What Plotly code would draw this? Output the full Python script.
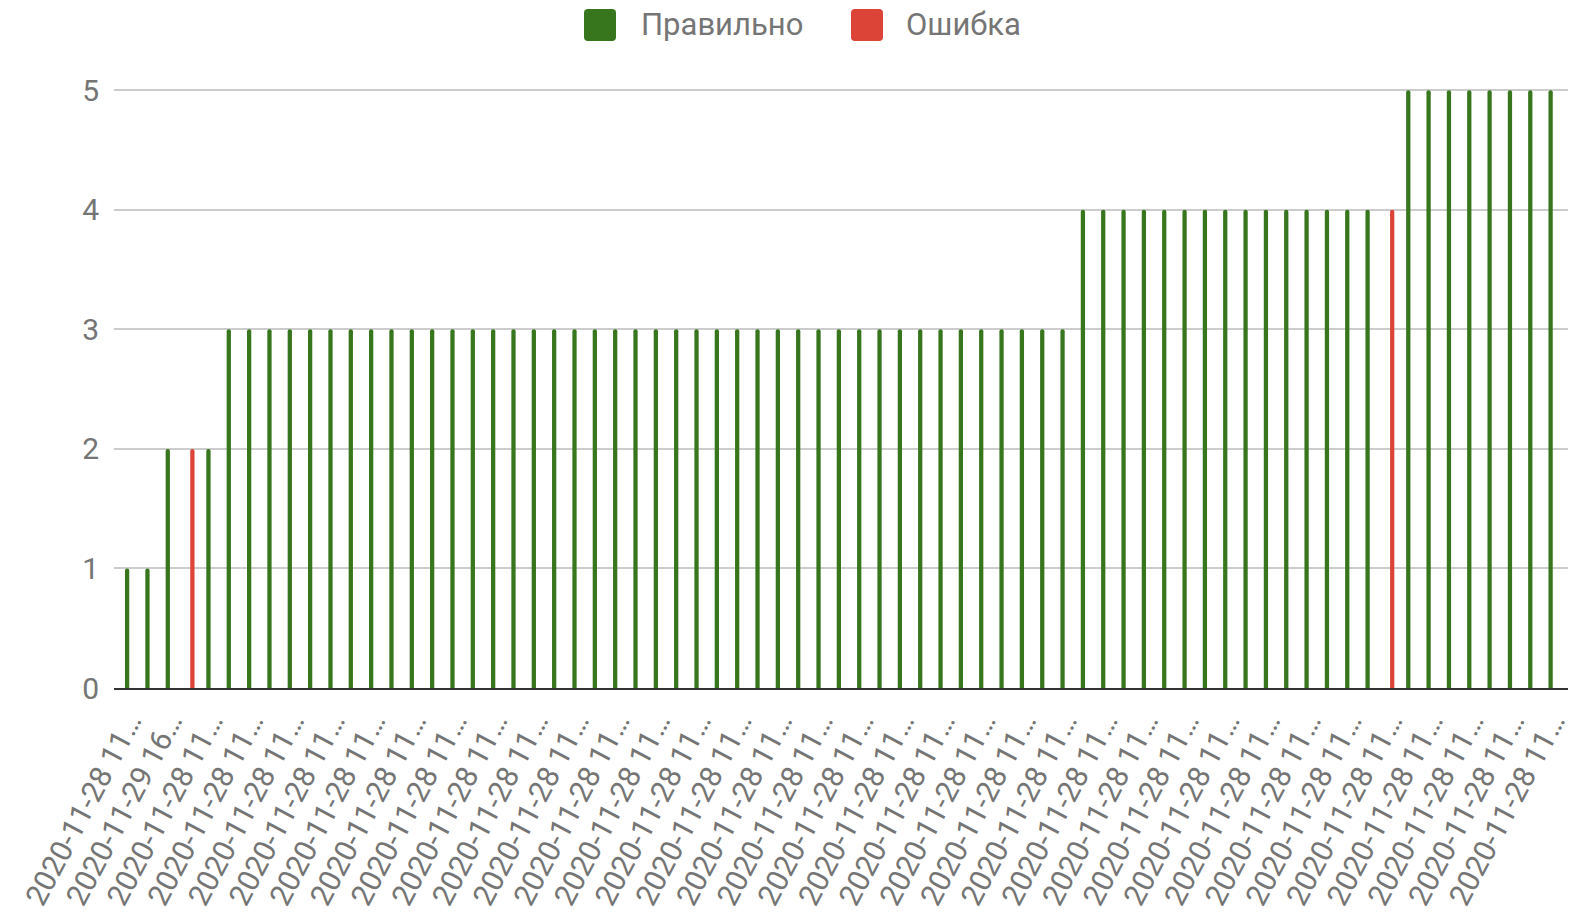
import plotly.graph_objects as go

# ---------------- data ----------------
category_labels = [
    "2020-11-28 11…", "2020-11-28 11…", "2020-11-29 16…", "2020-11-28 11…", "2020-11-28 11…",
    "2020-11-28 11…", "2020-11-28 11…", "2020-11-28 11…", "2020-11-28 11…", "2020-11-28 11…",
    "2020-11-28 11…", "2020-11-28 11…", "2020-11-28 11…", "2020-11-28 11…", "2020-11-28 11…",
    "2020-11-28 11…", "2020-11-28 11…", "2020-11-28 11…", "2020-11-28 11…", "2020-11-28 11…",
    "2020-11-28 11…", "2020-11-28 11…", "2020-11-28 11…", "2020-11-28 11…", "2020-11-28 11…",
    "2020-11-28 11…", "2020-11-28 11…", "2020-11-28 11…", "2020-11-28 11…", "2020-11-28 11…",
    "2020-11-28 11…", "2020-11-28 11…", "2020-11-28 11…", "2020-11-28 11…", "2020-11-28 11…",
    "2020-11-28 11…", "2020-11-28 11…", "2020-11-28 11…", "2020-11-28 11…", "2020-11-28 11…",
    "2020-11-28 11…", "2020-11-28 11…", "2020-11-28 11…", "2020-11-28 11…", "2020-11-28 11…",
    "2020-11-28 11…", "2020-11-28 11…", "2020-11-28 11…", "2020-11-28 11…", "2020-11-28 11…",
    "2020-11-28 11…", "2020-11-28 11…", "2020-11-28 11…", "2020-11-28 11…", "2020-11-28 11…",
    "2020-11-28 11…", "2020-11-28 11…", "2020-11-28 11…", "2020-11-28 11…", "2020-11-28 11…",
    "2020-11-28 11…", "2020-11-28 11…", "2020-11-28 11…", "2020-11-28 11…", "2020-11-28 11…",
    "2020-11-28 11…", "2020-11-28 11…", "2020-11-28 11…", "2020-11-28 11…", "2020-11-28 11…",
    "2020-11-28 11…",
]

correct_values = [
    1, 1, 2, None, 2, 3, 3, 3, 3, 3,
    3, 3, 3, 3, 3, 3, 3, 3, 3, 3,
    3, 3, 3, 3, 3, 3, 3, 3, 3, 3,
    3, 3, 3, 3, 3, 3, 3, 3, 3, 3,
    3, 3, 3, 3, 3, 3, 3, 4, 4, 4,
    4, 4, 4, 4, 4, 4, 4, 4, 4, 4,
    4, 4, None, 5, 5, 5, 5, 5, 5, 5,
    5,
]

error_values = [
    None, None, None, 2, None, None, None, None, None, None,
    None, None, None, None, None, None, None, None, None, None,
    None, None, None, None, None, None, None, None, None, None,
    None, None, None, None, None, None, None, None, None, None,
    None, None, None, None, None, None, None, None, None, None,
    None, None, None, None, None, None, None, None, None, None,
    None, None, 4, None, None, None, None, None, None, None,
    None,
]

series_names = ["Правильно", "Ошибка"]
y_ticks = [0, 1, 2, 3, 4, 5]

# ---------------- style ----------------
GREEN = "#38761d"
RED = "#dc4437"
TEXT = "#757575"
FONT = "Roboto"

W, H = 1572, 916
ML, MR, MT, MB = 114, 4, 89, 228
PW, PH = W - ML - MR, H - MT - MB

x = list(range(len(category_labels)))

fig = go.Figure()
fig.add_trace(go.Bar(x=x, y=correct_values, name=series_names[0],
                     marker=dict(color=GREEN, cornerradius=2, line=dict(width=0))))
fig.add_trace(go.Bar(x=x, y=error_values, name=series_names[1],
                     marker=dict(color=RED, cornerradius=2, line=dict(width=0))))

# custom legend (large rounded swatches like the original)
def px_to_paper_x(px):
    return (px - ML) / PW

def py_to_paper_y(py):
    return (MT + PH - py) / PH

r = 4
h = 16
swatch_path = (f"M {-h + r},{-h} L {h - r},{-h} Q {h},{-h} {h},{-h + r} "
               f"L {h},{h - r} Q {h},{h} {h - r},{h} L {-h + r},{h} Q {-h},{h} {-h},{h - r} "
               f"L {-h},{-h + r} Q {-h},{-h} {-h + r},{-h} Z")

legend_items = [(series_names[0], GREEN, 600, 639), (series_names[1], RED, 867, 904)]
shapes = []
annotations = []
for name, col, sx, tx in legend_items:
    shapes.append(dict(type="path", xref="paper", yref="paper",
                       xsizemode="pixel", ysizemode="pixel",
                       xanchor=px_to_paper_x(sx), yanchor=py_to_paper_y(25),
                       path=swatch_path, fillcolor=col, line=dict(width=0)))
    annotations.append(dict(text=name, xref="paper", yref="paper",
                            x=px_to_paper_x(tx), y=py_to_paper_y(25),
                            xanchor="left", yanchor="middle", showarrow=False,
                            font=dict(family=FONT, size=31, color=TEXT)))

fig.update_layout(
    width=W, height=H,
    margin=dict(l=ML, r=MR, t=MT, b=MB, pad=0),
    paper_bgcolor="white", plot_bgcolor="white",
    barmode="group", bargap=0.58, bargroupgap=0,
    showlegend=False,
    shapes=shapes, annotations=annotations,
    font=dict(family=FONT, color=TEXT),
)
fig.update_xaxes(
    range=[-0.75, len(x) - 0.25],
    tickmode="array", tickvals=x[::2], ticktext=category_labels[::2],
    tickangle=-62, tickfont=dict(family=FONT, size=30, color=TEXT),
    showgrid=False, zeroline=False,
    showline=True, linecolor="#333333", linewidth=2,
    ticks="", automargin=False, ticklabelstandoff=2,
    ticklabeloverflow="allow",
)
fig.update_yaxes(
    range=[0, 5.01], tickmode="array", tickvals=y_ticks,
    tickfont=dict(family=FONT, size=30, color=TEXT),
    showgrid=True, gridcolor="#cccccc", gridwidth=1.5,
    zeroline=False, showline=False, ticks="",
    ticklabelstandoff=14, automargin=False,
)

fig.write_html(
    "out.html",
    config={"displayModeBar": False},
    post_script="document.body.style.margin='0';document.documentElement.style.overflow='hidden';",
)
